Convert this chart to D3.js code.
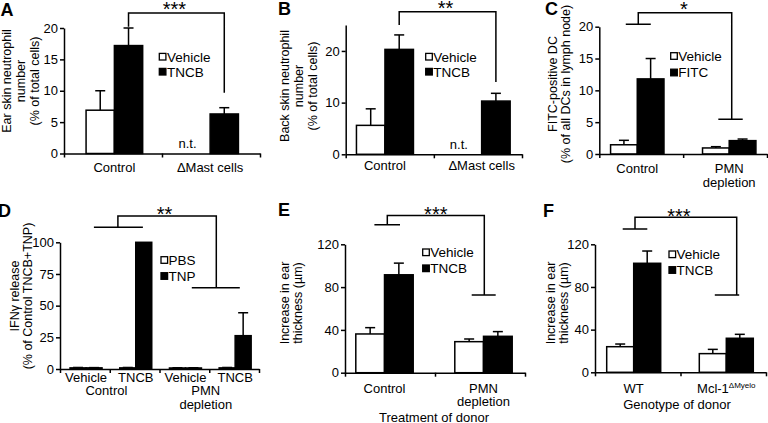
<!DOCTYPE html>
<html><head><meta charset="utf-8">
<script src="https://cdn.jsdelivr.net/npm/d3@7"></script>
<style>
body{margin:0;background:#fff}
svg{display:block}
text{font-family:"Liberation Sans",Arial,Helvetica,sans-serif;fill:#000}
</style>
</head><body>
<svg id="c" width="768" height="423"></svg>
<script>
// ---------------- DATA ----------------
// Panel A
const aCategories = ["Control", "ΔMast cells"];
const aSeries = ["Vehicle", "TNCB"];
const aVehicle = [6.9, null];
const aVehicleErr = [3.1, null];
const aTncb = [17.2, 6.3];
const aTncbErr = [2.8, 1.0];
const aYTicks = [0, 5, 10, 15, 20];
// Panel B
const bCategories = ["Control", "ΔMast cells"];
const bSeries = ["Vehicle", "TNCB"];
const bVehicle = [5.6, null];
const bVehicleErr = [3.2, null];
const bTncb = [20.3, 10.3];
const bTncbErr = [2.8, 1.5];
const bYTicks = [0, 10, 20];
// Panel C
const cCategories = ["Control", "PMN\ndepletion"];
const cSeries = ["Vehicle", "FITC"];
const cVehicle = [1.45, 0.95];
const cVehicleErr = [0.7, 0.2];
const cFitc = [11.8, 2.1];
const cFitcErr = [3.2, 0.25];
const cYTicks = [0, 5, 10, 15, 20];
// Panel D
const dCategories = ["Vehicle", "TNCB", "Vehicle", "TNCB"];
const dGroups = ["Control", "PMN\ndepletion"];
const dSeries = ["PBS", "TNP"];
const dPbs = [0.9, 0.9, 0.8, 0.9];
const dPbsErr = [0.3, 0.3, 0.2, 0.3];
const dTnp = [0.9, 100, 0.8, 26.3];
const dTnpErr = [0.2, 0, 0.2, 18.1];
const dYTicks = [0, 25, 50, 75, 100];
// Panel E
const eCategories = ["Control", "PMN\ndepletion"];
const eSeries = ["Vehicle", "TNCB"];
const eVehicle = [36.2, 29];
const eVehicleErr = [5.9, 2.5];
const eTncb = [91.5, 34];
const eTncbErr = [10.9, 4.4];
const eYTicks = [0, 40, 80, 120];
// Panel F
const fCategories = ["WT", "Mcl-1^ΔMyelo"];
const fSeries = ["Vehicle", "TNCB"];
const fVehicle = [24, 17.5];
const fVehicleErr = [2.5, 4];
const fTncb = [102.2, 31.9];
const fTncbErr = [11.5, 3.7];
const fYTicks = [0, 40, 80, 120];

// ---------------- LAYOUT ----------------
const FONT_TICK = 13, FONT_CAT = 13, FONT_YLAB = 12.5, FONT_LEG = 13.5;
const svg = d3.select("#c");

const panels = [
  { letter:"A", lx:0.5, ly:16,
    categories:aCategories, series:aSeries, values:[aVehicle,aTncb], errors:[aVehicleErr,aTncbErr],
    yDomain:[0,20], yTicks:aYTicks, y0:153.5, yTop:28, axX0:64, axX1:260, bandRange:[66.5,258], barW:28.3,
    catY:171.5, catLine:13.5, legX:159.3, legY:[56.7,71.7],
    yLab:["Ear skin neutrophil","number","(% of total cells)"], yLabX:11, yLabSp:13.8, yLabCY:81,
    nt:true,
    bracket:{kind:"bar", from:[0,1], to:[1,1], fromY:20.2, topY:22.4, toY:9.7, stars:"***", starDx:-2, starOff:3.5}
  },
  { letter:"B", lx:278, ly:15,
    categories:bCategories, series:bSeries, values:[bVehicle,bTncb], errors:[bVehicleErr,bTncbErr],
    yDomain:[0,25], yTicks:bYTicks, y0:154.3, yTop:25.1, axX0:345.7, axX1:522, bandRange:[336.6,530], barW:28.5,
    catY:170, catLine:13.5, legX:425.7, legY:[56.7,71.7],
    yLab:["Back skin neutrophil","number","(% of total cells)"], yLabX:288.5, yLabSp:14, yLabCY:86,
    nt:true,
    bracket:{kind:"bar", from:[0,1], to:[1,1], fromY:25.0, topY:27.6, toY:14.0, stars:"**", starDx:-2, starOff:3.5}
  },
  { letter:"C", lx:545, ly:15,
    categories:cCategories, series:cSeries, values:[cVehicle,cFitc], errors:[cVehicleErr,cFitcErr],
    yDomain:[0,20], yTicks:cYTicks, y0:154, yTop:26.7, axX0:599.3, axX1:767, bandRange:[591.3,775.2], barW:26.7,
    catY:173, catLine:13.5, legX:670.7, legY:[56,72.5],
    yLab:["FITC-positive DC","(% of all DCs in lymph node)"], yLabX:556.5, yLabSp:13, yLabCY:84,
    bracket:{kind:"group", from:[0], to:[1], fromY:20.4, topY:22.2, toY:5.45,
             v1:1, h1:1, hw1:12.5, v2:2.5, h2:1.3, hw2:12.2, stars:"*", starDx:-1, starOff:3.5}
  },
  { letter:"D", lx:-2, ly:217,
    categories:dCategories, series:dSeries, values:[dPbs,dTnp], errors:[dPbsErr,dTnpErr],
    yDomain:[0,100], yTicks:dYTicks, y0:369, yTop:242.3, axX0:60, axX1:259, bandRange:[61.2,260], barW:16,
    catY:381.5, catLine:13.5, legX:161, legY:[260,276],
    groups:dGroups, groupY:395, groupDx:-4.5,
    yLab:["IFNγ release","(% of Control TNCB+TNP)"], yLabX:18.5, yLabSp:13.5, yLabCY:296,
    bracket:{kind:"group", from:[0,1], to:[2,3], fromY:111.8, topY:120.8, toY:64.2,
             v1:7, h1:7.5, hw1:24.5, v2:6, h2:5.5, hw2:24, stars:"**", starDx:-2.5, starOff:5.5}
  },
  { letter:"E", lx:278, ly:216,
    categories:eCategories, series:eSeries, values:[eVehicle,eTncb], errors:[eVehicleErr,eTncbErr],
    yDomain:[0,120], yTicks:eYTicks, y0:372.7, yTop:244.3, axX0:345, axX1:525, bandRange:[335,533], barW:28.7,
    catY:393, catLine:13, legX:422.7, legY:[252.3,268.3],
    title:"Treatment of donor", titleX:434, titleY:421.5,
    yLab:["Increase in ear","thickness (µm)"], yLabX:289, yLabSp:13, yLabCY:303,
    bracket:{kind:"group", from:[0], to:[1], fromY:138.3, topY:147, toY:72.7,
             v1:2.8, h1:2.7, hw1:12.8, v2:0.8, h2:0.2, hw2:12, stars:"***", starDx:0, starOff:5.5}
  },
  { letter:"F", lx:543, ly:217,
    categories:fCategories, series:fSeries, values:[fVehicle,fTncb], errors:[fVehicleErr,fTncbErr],
    yDomain:[0,120], yTicks:fYTicks, y0:372.3, yTop:244.3, axX0:595, axX1:766, bandRange:[587.4,772.6], barW:27,
    catY:393, catLine:13, legX:669, legY:[254.3,270],
    title:"Genotype of donor", titleX:677, titleY:408.5,
    yLab:["Increase in ear","thickness (µm)"], yLabX:554.5, yLabSp:13, yLabCY:303,
    bracket:{kind:"group", from:[0], to:[1], fromY:134.3, topY:145.3, toY:72.5,
             v1:1.3, h1:1.3, hw1:12.3, v2:10.4, h2:0.7, hw2:12.2, stars:"***", starDx:-7, starOff:5.5}
  }
];

function addLines(textSel, str, lineH) {
  str.split("\n").forEach((ln, i) => {
    const parts = ln.split("^");
    const t = textSel.append("tspan").attr("x", textSel.attr("x")).attr("dy", i === 0 ? 0 : lineH).text(parts[0]);
    if (parts[1]) {
      textSel.append("tspan").attr("font-size", 8).attr("dy", -5.5).text(parts[1]);
    }
  });
}

function drawPanel(p) {
  const g = svg.append("g");
  const nC = p.categories.length;
  const x = d3.scaleBand().domain(d3.range(nC)).range(p.bandRange);
  const bw = x.bandwidth();
  const s = d3.scaleBand().domain(d3.range(p.series.length)).range([bw/2 - p.barW, bw/2 + p.barW]);
  const y = d3.scaleLinear().domain(p.yDomain).range([p.y0, p.yTop]);
  const center = ci => x(ci) + bw/2;

  const bars = [];
  p.values.forEach((vals, si) => vals.forEach((v, ci) => {
    if (v != null) bars.push({si, ci, v, e: p.errors[si][ci] || 0});
  }));

  // error bars (under the bars so lines start at bar tops)
  const eb = bars.filter(d => d.e > 0);
  const bx = d => x(d.ci) + s(d.si) + s.bandwidth()/2;
  g.selectAll("line.err").data(eb).join("line")
    .attr("x1", bx).attr("x2", bx).attr("y1", d => y(d.v)).attr("y2", d => y(d.v + d.e))
    .attr("stroke", "#000").attr("stroke-width", 1.5);
  g.selectAll("line.cap").data(eb).join("line")
    .attr("x1", d => bx(d) - 5).attr("x2", d => bx(d) + 5)
    .attr("y1", d => y(d.v + d.e)).attr("y2", d => y(d.v + d.e))
    .attr("stroke", "#000").attr("stroke-width", 1.5);

  g.selectAll("rect.bar").data(bars).join("rect")
    .attr("x", d => x(d.ci) + s(d.si)).attr("y", d => y(d.v))
    .attr("width", s.bandwidth()).attr("height", d => y(0) - y(d.v))
    .attr("fill", d => d.si === 0 ? "#fff" : "#000")
    .attr("stroke", "#000").attr("stroke-width", 1.5);

  // y axis
  const ya = g.append("g").attr("transform", `translate(${p.axX0},0)`)
    .call(d3.axisLeft(y).tickValues(p.yTicks).tickSize(4).tickSizeOuter(0).tickPadding(2));
  ya.attr("font-size", FONT_TICK).attr("font-family", null);
  ya.selectAll("path,line").attr("stroke-width", 1.5);
  // x axis (boundary ticks)
  const xl = d3.scaleLinear().domain([0, nC]).range([p.axX0, p.axX1]);
  const xa = g.append("g").attr("transform", `translate(0,${p.y0})`)
    .call(d3.axisBottom(xl).tickValues(d3.range(nC + 1)).tickFormat("").tickSize(4).tickSizeOuter(0));
  xa.selectAll("path,line").attr("stroke-width", 1.5);

  // category labels
  p.categories.forEach((c, ci) => {
    const t = g.append("text").attr("x", center(ci)).attr("y", p.catY)
      .attr("text-anchor", "middle").attr("font-size", FONT_CAT);
    addLines(t, c, p.catLine);
  });
  if (p.groups) {
    p.groups.forEach((gname, gi) => {
      const cx = (center(gi*2) + center(gi*2+1)) / 2 + p.groupDx;
      const t = g.append("text").attr("x", cx).attr("y", p.groupY)
        .attr("text-anchor", "middle").attr("font-size", FONT_CAT);
      addLines(t, gname, p.catLine);
    });
  }
  if (p.title) {
    g.append("text").attr("x", p.titleX).attr("y", p.titleY).attr("text-anchor", "middle")
      .attr("font-size", FONT_CAT).text(p.title);
  }
  if (p.nt) {
    p.values[0].forEach((v, ci) => {
      if (v == null) g.append("text").attr("x", x(ci) + s(0) + s.bandwidth()/2 - 8.5)
        .attr("y", p.y0 - 5.5).attr("text-anchor", "middle").attr("font-size", FONT_CAT).text("n.t.");
    });
  }

  // y label
  const yl = g.append("text").attr("transform", `translate(${p.yLabX},${p.yLabCY}) rotate(-90)`)
    .attr("text-anchor", "middle").attr("font-size", FONT_YLAB).attr("x", 0);
  p.yLab.forEach((ln, i) => yl.append("tspan").attr("x", 0).attr("dy", i === 0 ? 0 : p.yLabSp).text(ln));

  // legend
  p.series.forEach((sn, si) => {
    const ry = p.legY[si];
    g.append("rect").attr("x", p.legX).attr("y", ry - 3.3).attr("width", 6.6).attr("height", 6.6)
      .attr("fill", si === 0 ? "#fff" : "#000").attr("stroke", "#000").attr("stroke-width", 1.3);
    g.append("text").attr("x", p.legX + 7.6).attr("y", ry + 4.8).attr("font-size", FONT_LEG).text(sn);
  });

  // panel letter
  g.append("text").attr("x", p.lx).attr("y", p.ly).attr("font-size", 18).attr("font-weight", "bold").text(p.letter);

  // significance bracket
  const b = p.bracket;
  const stroke = sel => sel.attr("stroke", "#000").attr("stroke-width", 1.5).attr("fill", "none");
  let vx1, vx2;
  if (b.kind === "bar") {
    vx1 = x(b.from[0]) + s(b.from[1]) + s.bandwidth()/2;
    vx2 = x(b.to[0]) + s(b.to[1]) + s.bandwidth()/2;
    stroke(g.append("path").attr("d",
      `M${vx1},${y(b.fromY)}V${y(b.topY)}H${vx2}V${y(b.toY)}`));
  } else {
    const gc1 = d3.mean(b.from, ci => center(ci));
    const gc2 = d3.mean(b.to, ci => center(ci));
    vx1 = gc1 + b.v1; vx2 = gc2 + b.v2;
    const hc1 = gc1 + b.h1, hc2 = gc2 + b.h2;
    stroke(g.append("path").attr("d",
      `M${hc1 - b.hw1},${y(b.fromY)}H${hc1 + b.hw1}` +
      `M${vx1},${y(b.fromY)}V${y(b.topY)}H${vx2}V${y(b.toY)}` +
      `M${hc2 - b.hw2},${y(b.toY)}H${hc2 + b.hw2}`));
  }
  g.append("text").attr("x", (vx1 + vx2)/2 + b.starDx).attr("y", y(b.topY) + b.starOff)
    .attr("text-anchor", "middle").attr("font-size", 20).text(b.stars);
}

panels.forEach(drawPanel);
</script>
</body></html>
